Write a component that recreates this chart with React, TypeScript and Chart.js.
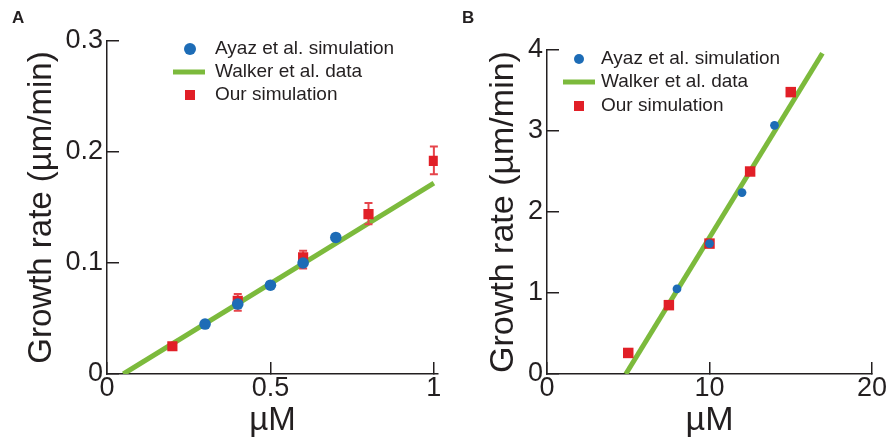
import React, { useEffect, useRef } from 'react';
import { Chart, registerables } from 'chart.js';

Chart.register(...registerables);

const FONT = '"Liberation Sans", Arial, Helvetica, sans-serif';
const INK = '#231f20';
const BLUE = '#1d6cb6';
const RED = '#e11f27';
const RED_ERR = '#e6444b';
const GREEN = '#7cba3c';

const legendLabels = ['Ayaz et al. simulation', 'Walker et al. data', 'Our simulation'];
const xTitle = 'µM';
const yTitle = 'Growth rate (µm/min)';

// ---- Panel A ----
const ayazXA = [0.3, 0.4, 0.5, 0.6, 0.7];
const ayazYA = [0.045, 0.063, 0.08, 0.1, 0.123];
const walkerXA = [0.05, 1.0];
const walkerYA = [0, 0.172];
const ourXA = [0.2, 0.4, 0.6, 0.8, 1.0];
const ourYA = [0.025, 0.066, 0.105, 0.144, 0.192];
const ourLoA = [0.0235, 0.057, 0.095, 0.135, 0.18];
const ourHiA = [0.0265, 0.072, 0.111, 0.154, 0.205];
const xTicksA = [0, 0.5, 1];
const yTicksA = [0, 0.1, 0.2, 0.3];

// ---- Panel B ----
const ayazXB = [8, 10, 12, 14];
const ayazYB = [1.05, 1.61, 2.24, 3.07];
const walkerXB = [4.85, 16.95];
const walkerYB = [0, 3.96];
const ourXB = [5, 7.5, 10, 12.5, 15];
const ourYB = [0.26, 0.85, 1.61, 2.5, 3.48];
const xTicksB = [0, 10, 20];
const yTicksB = [0, 1, 2, 3, 4];

const zip = (xs: number[], ys: number[]) => xs.map((x, i) => ({ x, y: ys[i] }));

const errorBarPlugin = {
  id: 'errorBars',
  afterDatasetDraw(chart: any, args: any, opts: any) {
    if (args.index !== 2 || !opts || !opts.lo) return;
    const { ctx, scales } = chart;
    const xs: number[] = opts.xs;
    ctx.save();
    ctx.strokeStyle = RED_ERR;
    ctx.lineWidth = 2;
    xs.forEach((xv, i) => {
      const px = scales.x.getPixelForValue(xv);
      const py1 = scales.y.getPixelForValue(opts.lo[i]);
      const py2 = scales.y.getPixelForValue(opts.hi[i]);
      ctx.beginPath();
      ctx.moveTo(px, py1);
      ctx.lineTo(px, py2);
      ctx.moveTo(px - 4, py1);
      ctx.lineTo(px + 4, py1);
      ctx.moveTo(px - 4, py2);
      ctx.lineTo(px + 4, py2);
      ctx.stroke();
    });
    ctx.restore();
  },
};

const legendPlugin = {
  id: 'panelLegend',
  afterDraw(chart: any, _args: any, o: any) {
    if (!o || !o.rows) return;
    const { ctx } = chart;
    ctx.save();
    ctx.fillStyle = BLUE;
    ctx.beginPath();
    ctx.arc(o.symX, o.rows[0], o.circleR, 0, Math.PI * 2);
    ctx.fill();
    ctx.strokeStyle = GREEN;
    ctx.lineWidth = 5;
    ctx.beginPath();
    ctx.moveTo(o.lineX1, o.rows[1]);
    ctx.lineTo(o.lineX2, o.rows[1]);
    ctx.stroke();
    ctx.fillStyle = RED;
    ctx.fillRect(o.symX - o.sq / 2, o.rows[2] - o.sq / 2, o.sq, o.sq);
    ctx.fillStyle = INK;
    ctx.font = `${o.fontSize}px ${FONT}`;
    ctx.textBaseline = 'middle';
    ctx.textAlign = 'left';
    legendLabels.forEach((t, i) => ctx.fillText(t, o.textX, o.rows[i]));
    ctx.restore();
  },
};

type Panel = {
  width: number;
  ayaz: { x: number; y: number }[];
  walker: { x: number; y: number }[];
  our: { x: number; y: number }[];
  ourX: number[];
  lo: number[] | null;
  hi: number[] | null;
  xTicks: number[];
  yTicks: number[];
  xMax: number;
  yMax: number;
  padTop: number;
  padRight: number;
  yAxisWidth: number;
  yTitleSize: number;
  yTitlePad: number;
  xTitleSize: number;
  circleR: number;
  squareR: number;
  legend: any;
};

const panelA: Panel = {
  width: 445,
  ayaz: zip(ayazXA, ayazYA),
  walker: zip(walkerXA, walkerYA),
  our: zip(ourXA, ourYA),
  ourX: ourXA,
  lo: ourLoA,
  hi: ourHiA,
  xTicks: xTicksA,
  yTicks: yTicksA,
  xMax: 1.012,
  yMax: 0.3,
  padTop: 41,
  padRight: 4,
  yAxisWidth: 107,
  yTitleSize: 33,
  yTitlePad: 22,
  xTitleSize: 33,
  circleR: 5.8,
  squareR: 7.2,
  legend: { symX: 190, textX: 215, rows: [49, 72, 95], lineX1: 173, lineX2: 205, circleR: 6, sq: 10, fontSize: 19 },
};

const panelB: Panel = {
  width: 444,
  ayaz: zip(ayazXB, ayazYB),
  walker: zip(walkerXB, walkerYB),
  our: zip(ourXB, ourYB),
  ourX: ourXB,
  lo: null,
  hi: null,
  xTicks: xTicksB,
  yTicks: yTicksB,
  xMax: 20,
  yMax: 4,
  padTop: 50,
  padRight: 17,
  yAxisWidth: 102,
  yTitleSize: 34,
  yTitlePad: 38,
  xTitleSize: 34,
  circleR: 4.4,
  squareR: 7.4,
  legend: { symX: 134, textX: 156, rows: [59, 82, 106], lineX1: 118, lineX2: 150, circleR: 5, sq: 10, fontSize: 19 },
};

function PanelChart({ p }: { p: Panel }) {
  const ref = useRef<HTMLCanvasElement | null>(null);
  useEffect(() => {
    if (!ref.current) return;
    const tickFont = { family: FONT, size: 27, lineHeight: 1 };
    const chart = new Chart(ref.current, {
      type: 'scatter',
      data: {
        datasets: [
          {
            label: legendLabels[0],
            data: p.ayaz,
            backgroundColor: BLUE,
            pointStyle: 'circle',
            pointRadius: p.circleR,
            pointBorderWidth: 0,
            borderWidth: 0,
          },
          {
            label: legendLabels[2],
            data: p.our,
            backgroundColor: RED,
            pointStyle: 'rect',
            pointRadius: p.squareR,
            pointBorderWidth: 0,
            borderWidth: 0,
          },
          {
            label: legendLabels[1],
            data: p.walker,
            showLine: true,
            borderColor: GREEN,
            borderWidth: 5,
            borderCapStyle: 'butt',
            pointRadius: 0,
            fill: false,
            tension: 0,
          },
        ] as any,
      },
      options: {
        animation: false,
        responsive: false,
        events: [],
        layout: { padding: { top: p.padTop, right: p.padRight, left: 0, bottom: 0 } },
        plugins: {
          legend: { display: false },
          tooltip: { enabled: false },
          errorBars: { xs: p.ourX, lo: p.lo, hi: p.hi },
          panelLegend: p.legend,
        } as any,
        scales: {
          x: {
            type: 'linear',
            min: 0,
            max: p.xMax,
            afterBuildTicks: (s: any) => {
              s.ticks = p.xTicks.map((v) => ({ value: v }));
            },
            afterFit: (s: any) => {
              s.height = 68;
              s.paddingLeft = 0;
              s.paddingRight = 0;
            },
            grid: { drawOnChartArea: false, drawTicks: true, tickLength: -12, color: INK, lineWidth: 1.5 },
            border: { display: true, color: INK, width: 1.5 },
            ticks: {
              font: tickFont,
              color: INK,
              padding: 13,
              maxRotation: 0,
              autoSkip: false,
              callback: (v: any) => String(v),
            },
            title: {
              display: true,
              text: xTitle,
              color: INK,
              font: { family: FONT, size: p.xTitleSize, lineHeight: 1.2 },
              padding: { top: 0, bottom: 1 },
            },
          },
          y: {
            type: 'linear',
            min: 0,
            max: p.yMax,
            afterBuildTicks: (s: any) => {
              s.ticks = p.yTicks.map((v) => ({ value: v }));
            },
            afterFit: (s: any) => {
              s.width = p.yAxisWidth;
              s.paddingTop = 0;
              s.paddingBottom = 0;
            },
            grid: { drawOnChartArea: false, drawTicks: true, tickLength: -12, color: INK, lineWidth: 1.5 },
            border: { display: true, color: INK, width: 1.5 },
            ticks: {
              font: tickFont,
              color: INK,
              padding: 16,
              autoSkip: false,
              callback: (v: any) => String(v),
            },
            title: {
              display: true,
              text: yTitle,
              color: INK,
              font: { family: FONT, size: p.yTitleSize, lineHeight: 1.2 },
              padding: { top: p.yTitlePad, bottom: 0 },
            },
          },
        },
      } as any,
      plugins: [errorBarPlugin, legendPlugin],
    });
    return () => chart.destroy();
  }, [p]);
  return <canvas ref={ref} width={p.width} height={442} style={{ display: 'block' }} />;
}

const letterStyle: React.CSSProperties = {
  position: 'absolute',
  fontFamily: FONT,
  fontWeight: 'bold',
  fontSize: 17,
  lineHeight: '17px',
  color: INK,
};

export default function App() {
  return (
    <div style={{ position: 'absolute', left: 0, top: 0, width: 889, height: 442, background: '#fff' }}>
      <div style={{ position: 'absolute', left: 0, top: 0 }}>
        <PanelChart p={panelA} />
      </div>
      <div style={{ position: 'absolute', left: 445, top: 0 }}>
        <PanelChart p={panelB} />
      </div>
      <div style={{ ...letterStyle, left: 12, top: 9 }}>A</div>
      <div style={{ ...letterStyle, left: 462, top: 9 }}>B</div>
    </div>
  );
}
